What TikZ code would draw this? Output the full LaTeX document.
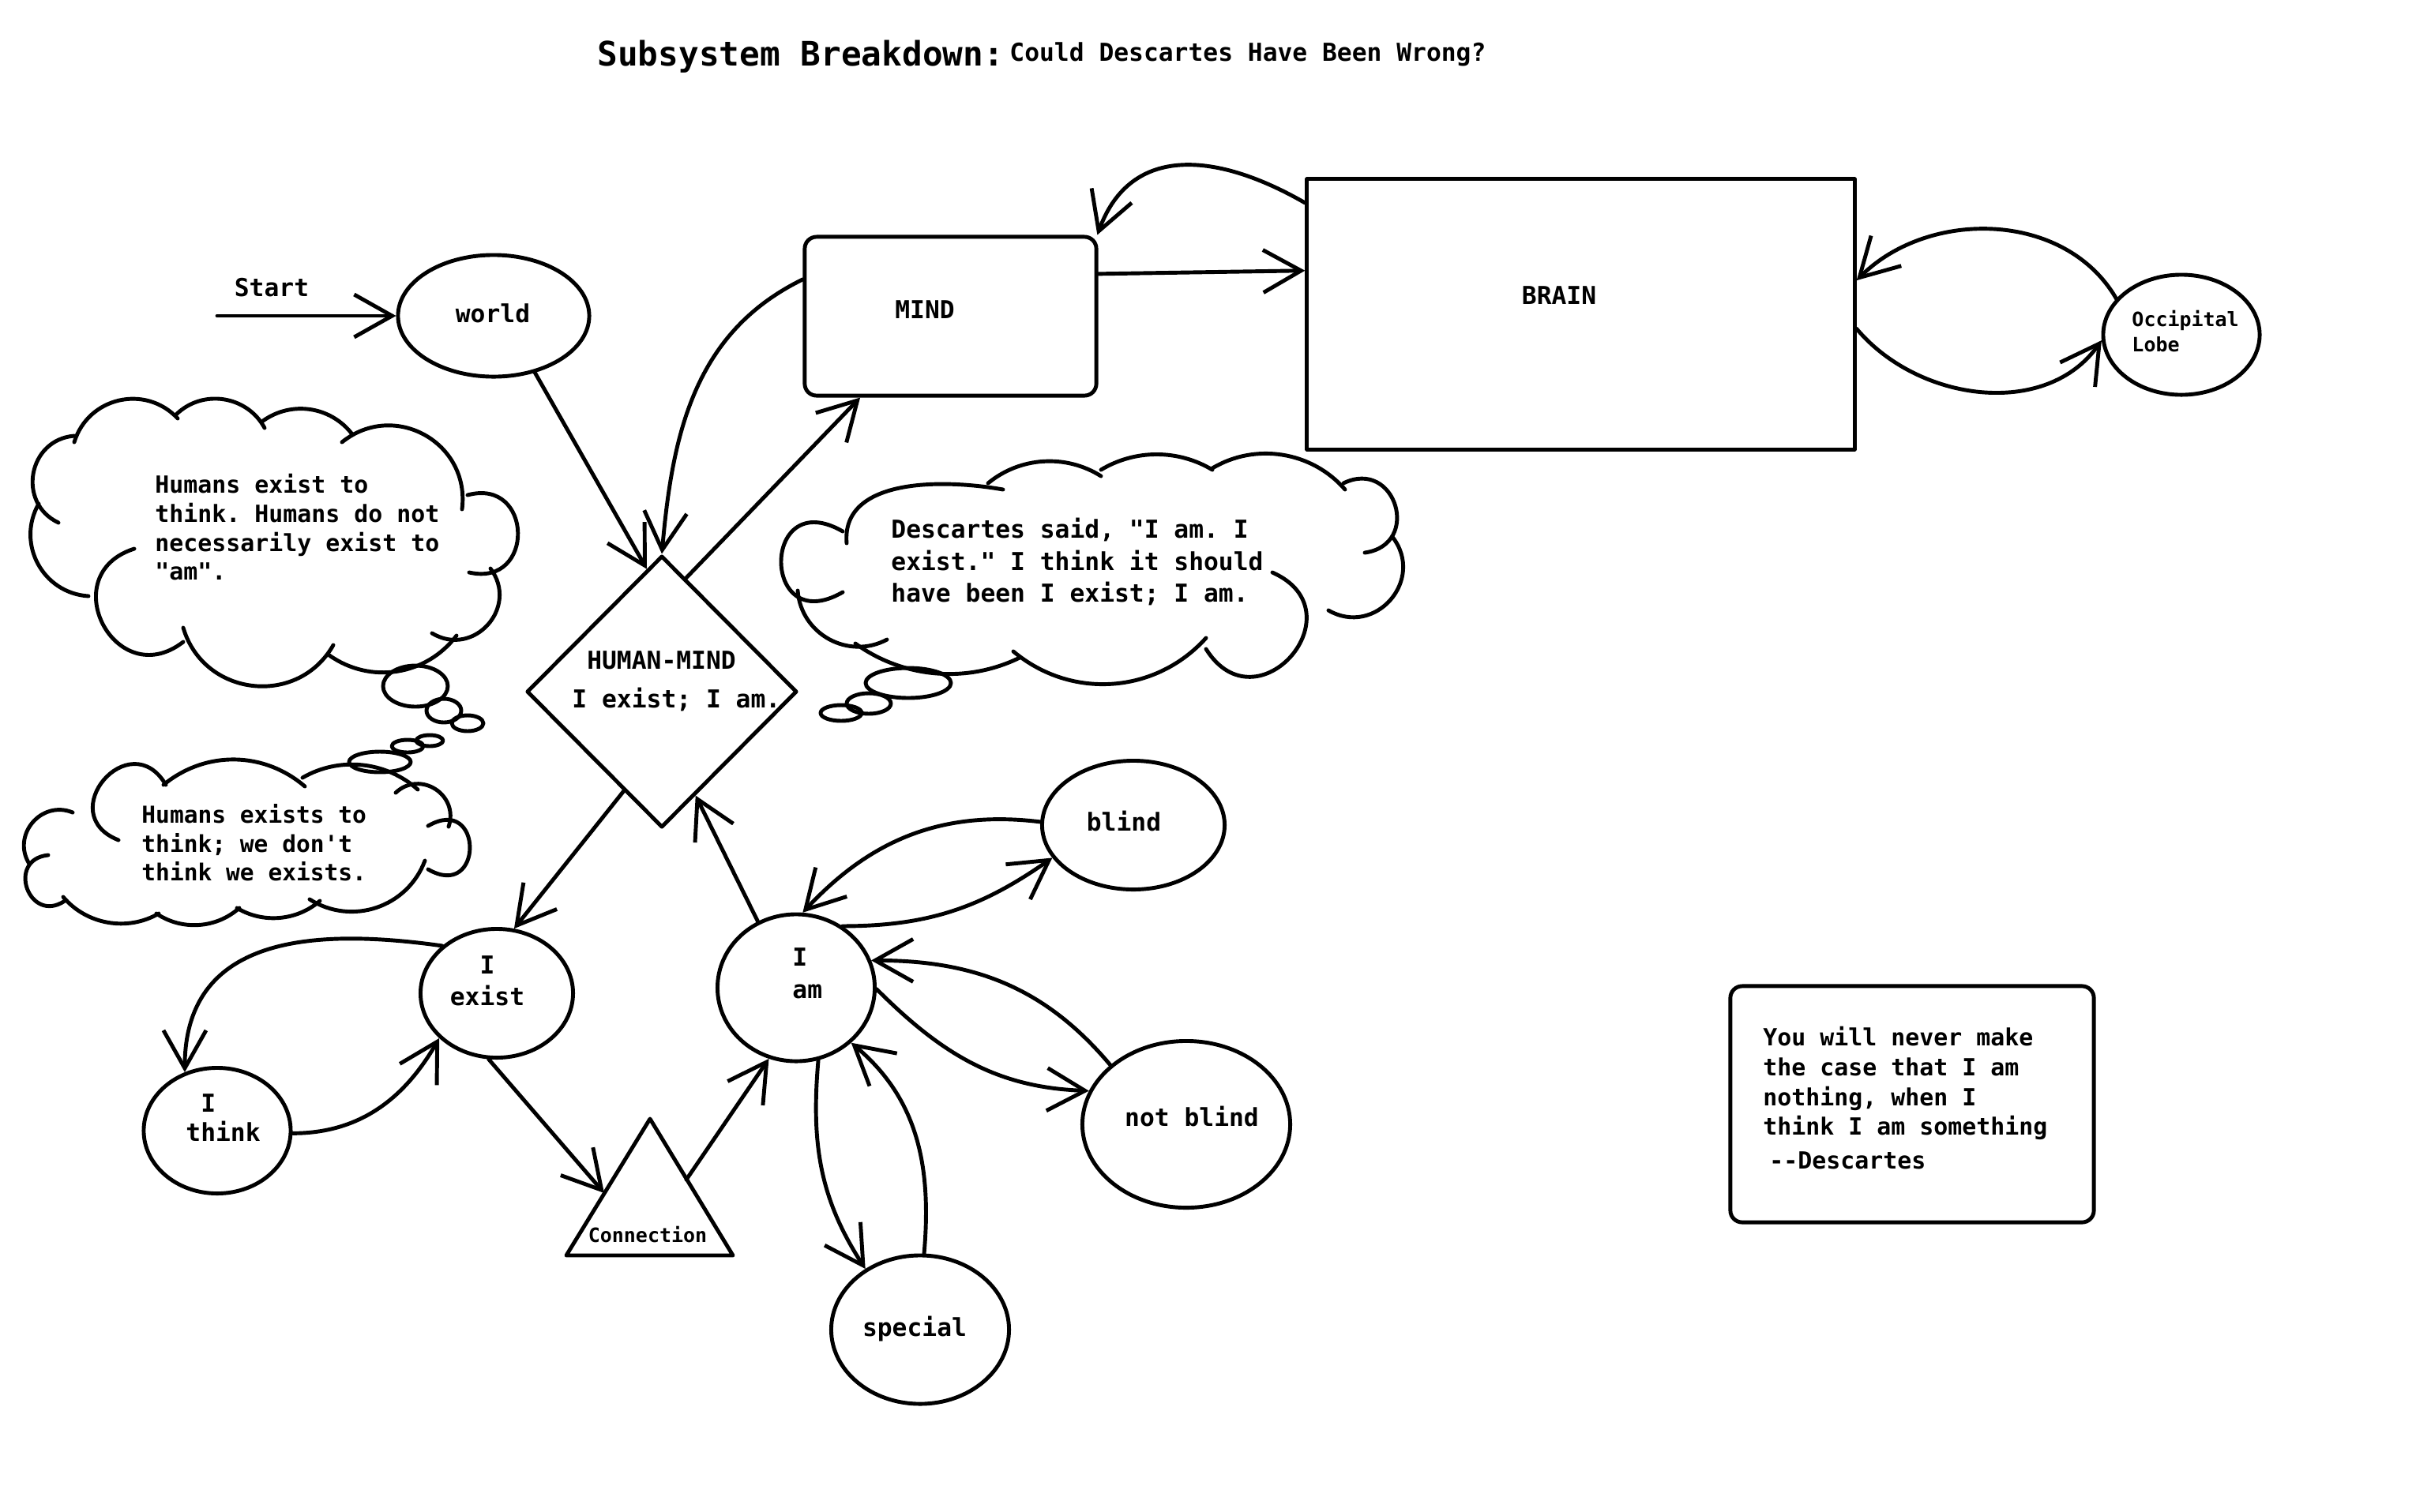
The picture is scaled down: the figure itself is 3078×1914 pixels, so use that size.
\documentclass[tikz,border=0pt]{standalone}
\usepackage{fontspec}
\setmonofont{DejaVu Sans Mono}
\usetikzlibrary{arrows.meta,shapes.geometric}
\begin{document}
\begin{tikzpicture}[x=0.01cm,y=-0.01cm,
  line width=1.4pt, line cap=round, line join=round,
  ell/.style={draw, ellipse, inner sep=0pt},
  txt/.style={inner sep=0pt},
  fbig/.style={font=\ttfamily\bfseries\fontsize{12.15pt}{14pt}\selectfont},
  fnine/.style={font=\ttfamily\bfseries\fontsize{8.9pt}{11.4pt}\selectfont},
  fsmall/.style={font=\ttfamily\bfseries\fontsize{7.1pt}{9.1pt}\selectfont},
  arr/.style={-{Straight Barb[length=4.8mm,width=5.4mm]}},
  lb/.style 2 args={bend left=#1, looseness=#2}
]
\fill[white] (0,0) rectangle (3078,1914);
\useasboundingbox (0,0) rectangle (3078,1914);

% ---- title ----
\node[txt, fbig, anchor=base west] (title) at (754,83) {Subsystem Breakdown:};
\node[txt, fnine, anchor=base west] (subtitle) at (1276,77) {Could Descartes Have Been Wrong?};

% ---- shapes ----
\node[ell, minimum width=2.42cm, minimum height=1.54cm] (world) at (625,400) {};
\node[txt, fnine] (world-t) at (624,397) {world};

\node[draw, rounded corners=0.15cm, inner sep=0pt, minimum width=3.69cm, minimum height=2.01cm] (mind) at (1203.5,400.5) {};
\node[txt, fnine] (mind-t) at (1171,392) {MIND};

\node[draw, inner sep=0pt, minimum width=6.93cm, minimum height=3.42cm] (brain) at (2001.5,398) {};
\node[txt, fnine] (brain-t) at (1974,374) {BRAIN};

\node[ell, minimum width=1.98cm, minimum height=1.52cm] (occ) at (2762,424) {};
\node[txt, fsmall, anchor=north west, align=left] (occ-t) at (2697,391) {Occipital\\Lobe};

\node[draw, diamond, inner sep=0pt, minimum width=3.42cm, minimum height=3.44cm] (hum) at (838,876) {};
\node[txt, font=\ttfamily\bfseries\fontsize{8.9pt}{13.9pt}\selectfont, anchor=north west, align=left] (hum-t) at (722,822) {\phantom{I}HUMAN-MIND\\I exist; I am.};

\node[ell, minimum width=1.93cm, minimum height=1.63cm] (iexist) at (629,1258) {};
\node[txt, fnine, anchor=north, align=center] (iexist-t) at (617,1208) {I\\exist};

\node[ell, minimum width=1.86cm, minimum height=1.59cm] (ithink) at (275,1432) {};
\node[txt, font=\ttfamily\bfseries\fontsize{8.9pt}{10.5pt}\selectfont, anchor=north west, align=left] (ithink-t) at (233,1383) {\phantom{t}I\\think};

\node[ell, minimum width=1.99cm, minimum height=1.86cm] (iam) at (1008,1251) {};
\node[txt, font=\ttfamily\bfseries\fontsize{8.9pt}{11.7pt}\selectfont, anchor=north west, align=left] (iam-t) at (1001,1198) {I\\am};

\node[ell, minimum width=2.31cm, minimum height=1.63cm] (blind) at (1435,1045) {};
\node[txt, fnine] (blind-t) at (1423,1040) {blind};

\node[ell, minimum width=2.63cm, minimum height=2.11cm] (notblind) at (1502,1424) {};
\node[txt, fnine] (notblind-t) at (1509,1414) {not blind};

\node[ell, minimum width=2.25cm, minimum height=1.88cm] (special) at (1165,1684) {};
\node[txt, fnine] (special-t) at (1158,1683) {special};

% connection triangle
\coordinate (tri-top) at (823,1417);
\coordinate (tri-right) at (928,1590);
\coordinate (tri-left) at (717,1590);
\draw (tri-top) -- (tri-right) -- (tri-left) -- cycle;
\coordinate (conn-in) at (765,1511);
\coordinate (conn-out) at (869,1494);
\node[txt, fsmall] (conn) at (820,1563) {Connection};

% quotation box
\node[draw, rounded corners=0.15cm, inner sep=0pt, minimum width=4.6cm, minimum height=2.99cm] (quote) at (2421,1398.5) {};
\node[txt, font=\ttfamily\bfseries\fontsize{8.5pt}{10.7pt}\selectfont, anchor=north west, align=left] (quote-t) at (2230,1298)
  {You will never make\\the case that I am\\nothing, when I\\think I am something\\[1.6pt]\hspace*{0.08cm}--Descartes};

% ---- start arrow ----
\coordinate (start) at (275,400);
\node[txt, fnine] (start-t) at (344,364) {Start};
\draw[arr] (start) -- (world.west);

% ---- connectors ----
\draw[arr] (world.-54.5) -- (hum.97.8);
\draw[arr] (mind.166) to[out=206,in=85] (hum.north);
\draw[arr] (hum.78.5) -- (mind.222.3);
\draw[arr] (mind.16.7) -- (brain.171.3);
\draw[arr] (brain.158) to[out=150,in=70,looseness=1.2] (mind.29);
\draw[arr] (occ.151) to[out=120,in=45] (brain.7.9);
\draw[arr] (brain.-3.1) to[out=-50,in=235] (occ.184.5);
\draw[arr] (iam.120.6) -- (hum.-72.6);
\draw[arr] (hum.249) -- (iexist.75.5);
\draw[arr] (iexist.139) to[out=172,in=90,looseness=1.2] (ithink.119);
\draw[arr] (ithink.-2.5) to[out=0,in=240] (iexist.218.6);
\draw[arr] (iexist.263) -- (conn-in);
\draw[arr] (conn-out) -- (iam.249.6);
\draw[arr] (blind.178.5) to[out=173,in=47] (iam.85.8);
\draw[arr] (iam.53.7) to[out=0,in=215] (blind.202);
\draw[arr] (notblind.142.7) to[out=130,in=0] (iam.20.5);
\draw[arr] (iam.-1) to[out=-45,in=178] (notblind.161);
\draw[arr] (iam.-73.5) to[out=-95,in=123] (special.132);
\draw[arr] (special.87.5) to[out=85,in=-40] (iam.-45.4);

% ---- thought cloud: upper left ----
\draw (74,662) to[lb={75}{1.34}] (94,552);
\draw (94,560) to[lb={60}{1.14}] (225,530);
\draw (223,525) to[lb={53}{1.06}] (335,542);
\draw (333,533) to[lb={44}{1.0}] (446,550);
\draw (433,560) to[lb={68}{1.25}] (585,645);
\draw (592,627) to[lb={104}{2.25}] (594,725);
\draw (621,720) to[lb={79}{1.42}] (547,802);
\draw (578,805) to[lb={44}{1.0}] (417,830);
\draw (422,817) to[lb={67}{1.22}] (232,795);
\draw (232,813) to[lb={100}{2.07}] (170,695);
\draw (112,755) to[lb={58}{1.12}] (49,638);
\draw (526,869) ellipse (41 and 26);
\draw (562,900) ellipse (22 and 15);
\draw (592,916) ellipse (20 and 10);
\draw (544,938) ellipse (17 and 7);
\draw (516,945) ellipse (20 and 8);
\draw (481,965) ellipse (39 and 13);
\node[txt, font=\ttfamily\bfseries\fontsize{8.5pt}{10.44pt}\selectfont, anchor=north west, align=left] (cloud1-t) at (194,598)
  {Humans exist to\\think. Humans do not\\necessarily exist to\\"am".};

% ---- thought cloud: lower left ----
\draw (150,1064) to[lb={109}{2.5}] (210,994);
\draw (207,994) to[lb={40}{0.98}] (386,996);
\draw (383,985) to[lb={36}{0.94}] (529,1000);
\draw (501,1004) to[lb={76}{1.37}] (568,1047);
\draw (542,1046) to[lb={120}{3.8}] (542,1101);
\draw (538,1090) to[lb={51}{1.05}] (392,1139);
\draw (405,1141) to[lb={36}{0.94}] (300,1150);
\draw (303,1150) to[lb={38}{0.95}] (198,1157);
\draw (201,1157) to[lb={40}{0.96}] (80,1136);
\draw (82,1141) to[lb={104}{2.25}] (61,1083);
\draw (37,1094) to[lb={72}{1.29}] (92,1029);
\node[txt, font=\ttfamily\bfseries\fontsize{8.4pt}{10.4pt}\selectfont, anchor=north west, align=left] (cloud2-t) at (177,1016)
  {Humans exists to\\think; we don't\\think we exists.};

% ---- thought cloud: Descartes ----
\draw (1067,750) to[lb={120}{4.0}] (1067,673);
\draw (1072,688) to[out=95,in=170] (1270,620);
\draw (1251,612) to[lb={36}{0.94}] (1394,603);
\draw (1394,595) to[lb={31}{0.92}] (1535,595);
\draw (1535,593) to[lb={40}{0.96}] (1703,620);
\draw (1701,612) to[lb={99}{2.04}] (1728,700);
\draw (1763,680) to[lb={79}{1.42}] (1682,773);
\draw (1611,725) to[lb={107}{2.43}] (1527,822);
\draw (1527,808) to[lb={44}{1.0}] (1283,825);
\draw (1291,833) to[lb={31}{0.92}] (1083,815);
\draw (1123,810) to[lb={57}{1.1}] (1010,748);
\draw (1150,865) ellipse (54 and 19);
\draw (1100,891) ellipse (28 and 13);
\draw (1065,903) ellipse (26 and 10);
\node[txt, fnine, anchor=north west, align=left] (cloud3-t) at (1126,654)
  {Descartes said, "I am. I\\exist." I think it should\\have been I exist; I am.};
\end{tikzpicture}
\end{document}
